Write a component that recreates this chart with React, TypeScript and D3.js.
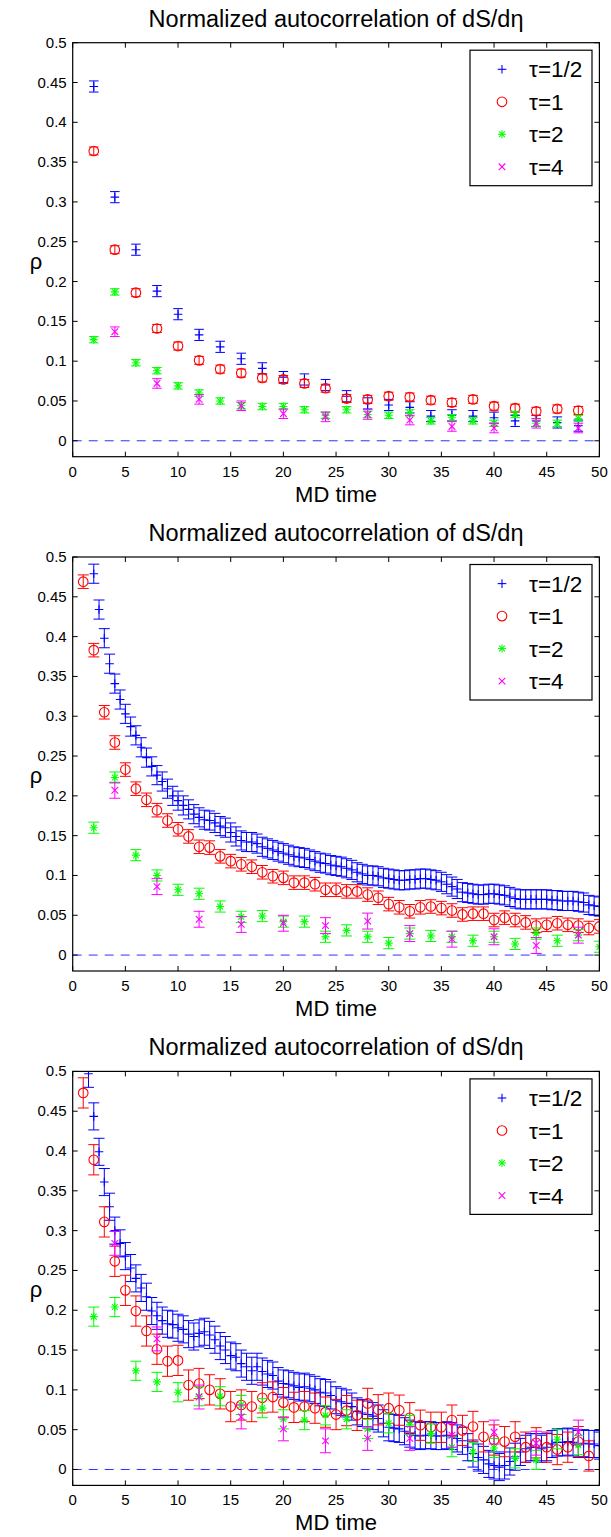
import React from "react";
import * as d3 from "d3";

const TITLE = "Normalized autocorrelation of dS/dη";
const X_LABEL = "MD time";
const Y_LABEL = "ρ";
const LEGEND_LABELS = ["τ=1/2", "τ=1", "τ=2", "τ=4"];
const COLORS = ["#0000ff", "#ff0000", "#00ff00", "#ff00ff"];
const MARKERS = ["plus", "circle", "star", "cross"];
const X_TICKS = [0, 5, 10, 15, 20, 25, 30, 35, 40, 45, 50];
const Y_TICKS = [0, 0.05, 0.1, 0.15, 0.2, 0.25, 0.3, 0.35, 0.4, 0.45, 0.5];
const Y_TICK_LABELS = ["0", "0.05", "0.1", "0.15", "0.2", "0.25", "0.3", "0.35", "0.4", "0.45", "0.5"];

// ---------- Panel 1 ----------
const p1BlueX = d3.range(2, 48.01, 2);
const p1Blue = [0.445, 0.306, 0.240, 0.188, 0.159, 0.133, 0.118, 0.103, 0.091, 0.080, 0.077, 0.070,
  0.056, 0.047, 0.045, 0.042, 0.031, 0.032, 0.031, 0.029, 0.025, 0.025, 0.023, 0.019];
const p1RedX = d3.range(2, 48.01, 2);
const p1Red = [0.364, 0.240, 0.186, 0.141, 0.119, 0.101, 0.090, 0.085, 0.079, 0.077, 0.072, 0.066,
  0.053, 0.052, 0.056, 0.055, 0.051, 0.048, 0.052, 0.0435, 0.041, 0.037, 0.040, 0.038];
const p1GreenX = d3.range(2, 48.01, 2);
const p1Green = [0.127, 0.187, 0.098, 0.088, 0.069, 0.060, 0.050, 0.044, 0.043, 0.043, 0.039, 0.032,
  0.039, 0.033, 0.032, 0.035, 0.025, 0.029, 0.025, 0.022, 0.033, 0.022, 0.022, 0.028];
const p1MagX = d3.range(4, 48.01, 4);
const p1Mag = [0.137, 0.072, 0.052, 0.044, 0.034, 0.030, 0.033, 0.026, 0.018, 0.016, 0.022, 0.016];
const p1Err = [0.007, 0.005, 0.004, 0.006];

// ---------- Panel 2 ----------
const p2BlueX = d3.range(2, 50.01, 0.5);
const p2Blue = [
  0.479, 0.434, 0.398, 0.366, 0.341, 0.321, 0.303, 0.287, 0.276, 0.261,
  0.248, 0.237, 0.226, 0.218, 0.209, 0.200, 0.194, 0.188, 0.183, 0.177,
  0.173, 0.170, 0.169, 0.166, 0.162, 0.160, 0.154, 0.149, 0.144, 0.142,
  0.142, 0.140, 0.136, 0.134, 0.132, 0.130, 0.128, 0.126, 0.124, 0.123,
  0.122, 0.120, 0.118, 0.116, 0.115, 0.113, 0.112, 0.111, 0.109, 0.107,
  0.104, 0.102, 0.100, 0.100, 0.099, 0.097, 0.096, 0.095, 0.094, 0.094,
  0.095, 0.095, 0.096, 0.096, 0.095, 0.094, 0.092, 0.089, 0.086, 0.083,
  0.079, 0.078, 0.077, 0.076, 0.076, 0.077, 0.077, 0.076, 0.075, 0.073,
  0.071, 0.070, 0.070, 0.070, 0.070, 0.070, 0.070, 0.069, 0.069, 0.068,
  0.068, 0.068, 0.067, 0.066, 0.063, 0.062, 0.061];
const p2RedX = d3.range(1, 50.01, 1);
const p2Red = [0.469, 0.383, 0.305, 0.267, 0.233, 0.209, 0.195, 0.182, 0.169, 0.158,
  0.149, 0.136, 0.135, 0.124, 0.118, 0.114, 0.111, 0.104, 0.099, 0.097,
  0.091, 0.091, 0.089, 0.082, 0.082, 0.080, 0.080, 0.076, 0.072, 0.064,
  0.060, 0.055, 0.060, 0.061, 0.059, 0.056, 0.051, 0.052, 0.052, 0.044,
  0.047, 0.044, 0.041, 0.037, 0.038, 0.040, 0.038, 0.037, 0.034, 0.036];
const p2GreenX = d3.range(2, 50.01, 2);
const p2Green = [0.160, 0.223, 0.1255, 0.100, 0.082, 0.077, 0.061, 0.048, 0.049, 0.042, 0.042, 0.023,
  0.031, 0.023, 0.015, 0.027, 0.024, 0.023, 0.018, 0.023, 0.014, 0.027, 0.018, 0.025, 0.0105];
const p2MagX = d3.range(4, 48.01, 4);
const p2Mag = [0.207, 0.086, 0.045, 0.0385, 0.040, 0.037, 0.0427, 0.027, 0.020, 0.023, 0.012, 0.025];
const p2Err = [0.012, 0.0085, 0.007, 0.01];

// ---------- Panel 3 ----------
const p3BlueX = d3.range(1.5, 50.01, 0.5);
const p3Blue = [
  0.497, 0.4435, 0.399, 0.361, 0.330, 0.300, 0.284, 0.268, 0.253, 0.240,
  0.228, 0.217, 0.199, 0.193, 0.187, 0.183, 0.182, 0.178, 0.176, 0.170,
  0.167, 0.171, 0.173, 0.169, 0.163, 0.155, 0.150, 0.143, 0.141, 0.133,
  0.129, 0.124, 0.129, 0.123, 0.120, 0.118, 0.111, 0.108, 0.107, 0.105,
  0.103, 0.104, 0.102, 0.100, 0.097, 0.096, 0.093, 0.087, 0.085, 0.083,
  0.079, 0.073, 0.071, 0.069, 0.067, 0.064, 0.058, 0.053, 0.052, 0.051,
  0.048, 0.045, 0.043, 0.042, 0.043, 0.043, 0.042, 0.042, 0.043, 0.042,
  0.039, 0.036, 0.028, 0.020, 0.015, 0.012, 0.007, 0.005, 0.003, 0.005,
  0.010, 0.016, 0.022, 0.026, 0.028, 0.028, 0.026, 0.028, 0.032, 0.034,
  0.034, 0.035, 0.034, 0.032, 0.033, 0.032, 0.032, 0.030];
const p3RedX = d3.range(1, 49.01, 1);
const p3Red = [0.473, 0.389, 0.311, 0.2615, 0.225, 0.199, 0.174, 0.151, 0.136, 0.137,
  0.106, 0.108, 0.100, 0.095, 0.079, 0.081, 0.079, 0.090, 0.091, 0.084,
  0.078, 0.079, 0.077, 0.072, 0.069, 0.074, 0.068, 0.083, 0.075, 0.077,
  0.0745, 0.065, 0.0556, 0.053, 0.053, 0.062, 0.049, 0.054, 0.041, 0.037,
  0.035, 0.041, 0.028, 0.0335, 0.028, 0.025, 0.028, 0.035, 0.017];
const p3GreenX = d3.range(2, 48.01, 2);
const p3Green = [0.192, 0.204, 0.124, 0.110, 0.097, 0.092, 0.092, 0.081, 0.077, 0.063, 0.062, 0.068,
  0.063, 0.051, 0.058, 0.056, 0.045, 0.028, 0.022, 0.027, 0.014, 0.012, 0.038, 0.0305];
const p3MagX = d3.range(4, 48.01, 4);
const p3Mag = [0.284, 0.164, 0.091, 0.066, 0.051, 0.036, 0.039, 0.039, 0.043, 0.047, 0.033, 0.047];
const p3Err = [0.017, 0.019, 0.012, 0.015];

type Series = { xs: number[]; ys: number[]; err: number };

const panels: { top: number; cap: number; series: Series[] }[] = [
  {
    top: 42.7, cap: 4.8,
    series: [
      { xs: p1BlueX, ys: p1Blue, err: p1Err[0] },
      { xs: p1RedX, ys: p1Red, err: p1Err[1] },
      { xs: p1GreenX, ys: p1Green, err: p1Err[2] },
      { xs: p1MagX, ys: p1Mag, err: p1Err[3] },
    ],
  },
  {
    top: 557, cap: 5.5,
    series: [
      { xs: p2BlueX, ys: p2Blue, err: p2Err[0] },
      { xs: p2RedX, ys: p2Red, err: p2Err[1] },
      { xs: p2GreenX, ys: p2Green, err: p2Err[2] },
      { xs: p2MagX, ys: p2Mag, err: p2Err[3] },
    ],
  },
  {
    top: 1071.4, cap: 5.5,
    series: [
      { xs: p3BlueX, ys: p3Blue, err: p3Err[0] },
      { xs: p3RedX, ys: p3Red, err: p3Err[1] },
      { xs: p3GreenX, ys: p3Green, err: p3Err[2] },
      { xs: p3MagX, ys: p3Mag, err: p3Err[3] },
    ],
  },
];

const LEFT = 72.7;
const RIGHT = 599.4;
const HEIGHT = 414;
const FONT = "'Liberation Sans', Arial, Helvetica, sans-serif";

function Marker({ kind, x, y, color }: { kind: string; x: number; y: number; color: string }) {
  const sw = 1.1;
  if (kind === "plus") {
    const s = 4.3;
    return (
      <g stroke={color} strokeWidth={sw}>
        <line x1={x - s} y1={y} x2={x + s} y2={y} />
        <line x1={x} y1={y - s} x2={x} y2={y + s} />
      </g>
    );
  }
  if (kind === "circle") {
    return <circle cx={x} cy={y} r={4.8} fill="none" stroke={color} strokeWidth={sw} />;
  }
  if (kind === "star") {
    const s = 4;
    const d = s * 0.72;
    return (
      <g stroke={color} strokeWidth={sw}>
        <line x1={x - s} y1={y} x2={x + s} y2={y} />
        <line x1={x} y1={y - s} x2={x} y2={y + s} />
        <line x1={x - d} y1={y - d} x2={x + d} y2={y + d} />
        <line x1={x - d} y1={y + d} x2={x + d} y2={y - d} />
      </g>
    );
  }
  const s = 3.3;
  return (
    <g stroke={color} strokeWidth={sw}>
      <line x1={x - s} y1={y - s} x2={x + s} y2={y + s} />
      <line x1={x - s} y1={y + s} x2={x + s} y2={y - s} />
    </g>
  );
}

function Panel({ idx, top, cap, series }: { idx: number; top: number; cap: number; series: Series[] }) {
  const x = d3.scaleLinear().domain([0, 50]).range([LEFT, RIGHT]);
  const y = d3.scaleLinear().domain([-0.02, 0.5]).range([top + HEIGHT, top]);
  const bottom = top + HEIGHT;
  const clipId = `clip${idx}`;
  const tick = 5;
  const legX = 470;
  const legY = top + 7.5;
  const legW = 122;
  const legH = 135.5;
  return (
    <g>
      <defs>
        <clipPath id={clipId}>
          <rect x={LEFT} y={top} width={RIGHT - LEFT} height={HEIGHT} />
        </clipPath>
      </defs>
      <rect x={LEFT} y={top} width={RIGHT - LEFT} height={HEIGHT} fill="#fff" />
      <g clipPath={`url(#${clipId})`}>
        <line x1={x(0)} x2={x(50)} y1={y(0)} y2={y(0)} stroke="#3030ff" strokeWidth={1} strokeDasharray="9,7" />
        {series.map((s, si) => (
          <g key={si}>
            {s.ys.map((v, i) => {
              const cx = x(s.xs[i]);
              const y1 = y(v + s.err);
              const y2 = y(v - s.err);
              return (
                <g key={i}>
                  <g stroke={COLORS[si]} strokeWidth={1}>
                    <line x1={cx} x2={cx} y1={y1} y2={y2} />
                    <line x1={cx - cap} x2={cx + cap} y1={y1} y2={y1} />
                    <line x1={cx - cap} x2={cx + cap} y1={y2} y2={y2} />
                  </g>
                  <Marker kind={MARKERS[si]} x={cx} y={y(v)} color={COLORS[si]} />
                </g>
              );
            })}
          </g>
        ))}
      </g>
      {/* axes box */}
      <rect x={LEFT} y={top} width={RIGHT - LEFT} height={HEIGHT} fill="none" stroke="#000" strokeWidth={1.2} />
      {X_TICKS.map((t) => (
        <g key={`xt${t}`}>
          <line x1={x(t)} x2={x(t)} y1={bottom} y2={bottom - tick} stroke="#000" />
          <line x1={x(t)} x2={x(t)} y1={top} y2={top + tick} stroke="#000" />
          <text x={x(t)} y={bottom + 20} textAnchor="middle" fontSize={15} fontFamily={FONT}>{t}</text>
        </g>
      ))}
      {Y_TICKS.map((t, i) => (
        <g key={`yt${i}`}>
          <line x1={LEFT} x2={LEFT + tick} y1={y(t)} y2={y(t)} stroke="#000" />
          <line x1={RIGHT} x2={RIGHT - tick} y1={y(t)} y2={y(t)} stroke="#000" />
          <text x={LEFT - 6} y={y(t) + 5} textAnchor="end" fontSize={15} fontFamily={FONT}>{Y_TICK_LABELS[i]}</text>
        </g>
      ))}
      <text x={(LEFT + RIGHT) / 2} y={top - 16} textAnchor="middle" fontSize={23.5} fontFamily={FONT}>{TITLE}</text>
      <text x={(LEFT + RIGHT) / 2} y={bottom + 45} textAnchor="middle" fontSize={22} fontFamily={FONT}>{X_LABEL}</text>
      <text x={36} y={top + 226} textAnchor="middle" fontSize={22} fontFamily={FONT}>{Y_LABEL}</text>
      {/* legend */}
      <rect x={legX} y={legY} width={legW} height={legH} fill="#fff" stroke="#000" strokeWidth={1.2} />
      {LEGEND_LABELS.map((lab, i) => {
        const ly = top + 26.6 + i * 32.5;
        return (
          <g key={lab}>
            <Marker kind={MARKERS[i]} x={502} y={ly} color={COLORS[i]} />
            <text x={529} y={ly + 8} fontSize={22.5} fontFamily={FONT}>{lab}</text>
          </g>
        );
      })}
    </g>
  );
}

export default function App() {
  return (
    <svg width={611} height={1537} style={{ position: "absolute", left: 0, top: 0, background: "#fff" }}>
      <rect x={0} y={0} width={611} height={1537} fill="#fff" />
      {panels.map((p, i) => (
        <Panel key={i} idx={i} top={p.top} cap={p.cap} series={p.series} />
      ))}
    </svg>
  );
}
